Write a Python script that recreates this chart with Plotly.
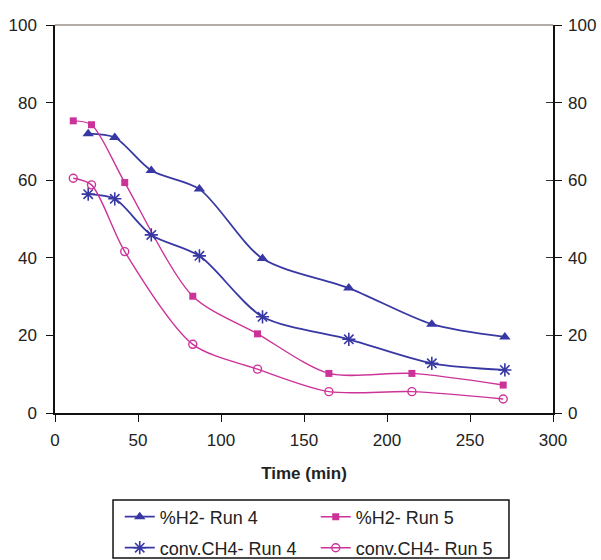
import plotly.graph_objects as go

# Time (min) and measured values for each series
time_run4 = [20, 36, 58, 87, 125, 177, 227, 271]
h2_run4 = [72, 71, 62.5, 57.7, 39.8, 32.2, 22.9, 19.6]
ch4_run4 = [56.4, 55.2, 45.9, 40.5, 24.8, 19, 12.8, 11.1]

time_run5 = [11, 22, 42, 83, 122, 165, 215, 270]
h2_run5 = [75.3, 74.3, 59.4, 30.1, 20.4, 10.2, 10.2, 7.2]
ch4_run5 = [60.5, 58.8, 41.6, 17.7, 11.3, 5.5, 5.5, 3.6]

x_ticks = [0, 50, 100, 150, 200, 250, 300]
y_ticks = [0, 20, 40, 60, 80, 100]

BLUE = "#3838a4"
MAGENTA = "#cc3399"
FONT = "Liberation Sans, Arial, sans-serif"
SMOOTH = 0.8

fig = go.Figure()

# %H2 series share the first legend row, CH4 conversion the second
fig.add_trace(go.Scatter(
    x=time_run4, y=h2_run4, name="%H2- Run 4", mode="lines+markers",
    legend="legend",
    line=dict(color=BLUE, width=1.8, shape="spline", smoothing=SMOOTH),
    marker=dict(symbol="triangle-up", size=10, color=BLUE),
))
fig.add_trace(go.Scatter(
    x=time_run5, y=h2_run5, name="%H2- Run 5", mode="lines+markers",
    legend="legend",
    line=dict(color=MAGENTA, width=1.4, shape="spline", smoothing=SMOOTH),
    marker=dict(symbol="square", size=7, color=MAGENTA),
))
fig.add_trace(go.Scatter(
    x=time_run4, y=ch4_run4, name="conv.CH4- Run 4", mode="lines+markers",
    legend="legend2",
    line=dict(color=BLUE, width=1.8, shape="spline", smoothing=SMOOTH),
    marker=dict(symbol="asterisk", size=11, color=BLUE,
                line=dict(color=BLUE, width=1.6)),
))
fig.add_trace(go.Scatter(
    x=time_run5, y=ch4_run5, name="conv.CH4- Run 5", mode="lines+markers",
    legend="legend2",
    line=dict(color=MAGENTA, width=1.4, shape="spline", smoothing=SMOOTH),
    marker=dict(symbol="circle-open", size=8, color=MAGENTA,
                line=dict(color=MAGENTA, width=1.4)),
))
# empty trace so the right-hand axis is drawn
fig.add_trace(go.Scatter(x=[], y=[], yaxis="y2", showlegend=False,
                         hoverinfo="skip"))

legend_common = dict(
    orientation="h", x=0.13, xanchor="left", yanchor="middle",
    borderwidth=0, bgcolor="rgba(0,0,0,0)",
    font=dict(size=18), entrywidth=151,
)

fig.update_layout(
    width=601, height=560,
    margin=dict(l=55, r=48, t=25, b=147, autoexpand=False),
    paper_bgcolor="white", plot_bgcolor="white",
    font=dict(family=FONT, size=17, color="#222"),
    xaxis=dict(
        range=[0, 300], tickvals=x_ticks, showgrid=False, zeroline=False,
        showline=True, linecolor="#111", linewidth=1.5,
        ticks="outside", ticklen=7, tickcolor="#111", ticklabelstandoff=4,
        tickfont=dict(size=17),
        title=dict(text="<b>Time (min)</b>", font=dict(size=17), standoff=18),
    ),
    yaxis=dict(
        range=[0, 100], tickvals=y_ticks, showgrid=False, zeroline=False,
        showline=True, linecolor="#111", linewidth=1.5,
        ticks="outside", ticklen=7, tickcolor="#111", ticklabelstandoff=6,
        tickfont=dict(size=17),
        mirror="ticks",
    ),
    yaxis2=dict(
        range=[0, 100], tickvals=y_ticks, overlaying="y", side="right",
        showgrid=False, zeroline=False, showline=False,
        ticks="inside", ticklen=7, tickcolor="#333", ticklabelstandoff=14,
        tickfont=dict(size=17),
    ),
    legend=dict(legend_common, y=-0.268),
    legend2=dict(legend_common, y=-0.348),
    showlegend=True,
)

# top border of the plot frame
fig.add_shape(type="line", xref="paper", yref="paper", x0=0, x1=1, y0=1, y1=1,
              line=dict(color="#9a8f88", width=1.5))
# frame around the two legend rows
fig.add_shape(type="rect", xref="paper", yref="paper",
              x0=0.1165, x1=0.9116, y0=-0.3737, y1=-0.2242,
              line=dict(color="#111", width=1.5), fillcolor="rgba(0,0,0,0)")

fig.write_html("out.html")
